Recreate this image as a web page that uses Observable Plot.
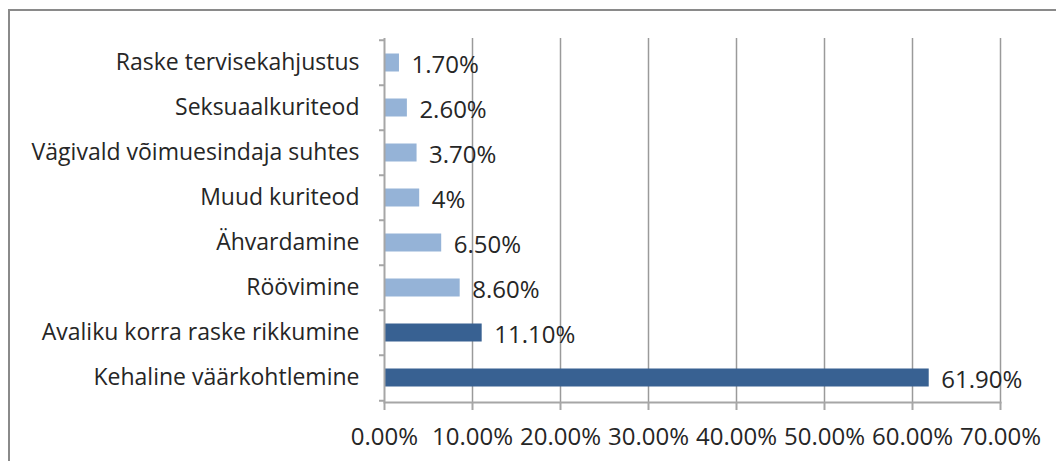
<!DOCTYPE html>
<html>
<head>
<meta charset="utf-8">
<script src="https://cdn.jsdelivr.net/npm/d3@7"></script>
<script src="https://cdn.jsdelivr.net/npm/@observablehq/plot@0.6"></script>
<style>
  html, body { margin: 0; padding: 0; background: #fff; }
  #frame { position: absolute; left: 8px; top: 9px; width: 1100px; height: 500px;
           border-left: 2px solid #8a8a8a; border-top: 2px solid #8a8a8a; }
  #chart { position: absolute; left: 0; top: 0; }
</style>
</head>
<body>
<div id="frame"></div>
<div id="chart"></div>
<script>
const categories = [
  "Raske tervisekahjustus",
  "Seksuaalkuriteod",
  "Vägivald võimuesindaja suhtes",
  "Muud kuriteod",
  "Ähvardamine",
  "Röövimine",
  "Avaliku korra raske rikkumine",
  "Kehaline väärkohtlemine"
];
const values = [0.017, 0.026, 0.037, 0.04, 0.065, 0.086, 0.111, 0.619];
const valueLabels = ["1.70%", "2.60%", "3.70%", "4%", "6.50%", "8.60%", "11.10%", "61.90%"];
const groups = ["light", "light", "light", "light", "light", "light", "dark", "dark"];
const xTicks = [0, 0.1, 0.2, 0.3, 0.4, 0.5, 0.6, 0.7];

const data = categories.map((c, i) => ({cat: c, value: values[i], label: valueLabels[i], group: groups[i]}));

const W = 1056, H = 461, mTop = 38, mBottom = 59;
const step = (H - mTop - mBottom) / categories.length;
const font = "'Open Sans', sans-serif";

const chart = Plot.plot({
  width: W,
  height: H,
  marginLeft: 384,
  marginRight: 56,
  marginTop: mTop,
  marginBottom: mBottom,
  style: {background: "transparent", fontFamily: font, fontSize: "22px", color: "#000"},
  x: {domain: [0, 0.7], ticks: xTicks},
  y: {domain: categories, padding: 0},
  color: {domain: ["light", "dark"], range: ["#95b3d7", "#386192"]},
  marks: [
    Plot.gridX(xTicks.slice(1), {stroke: "#9a9a9a", strokeOpacity: 1, strokeWidth: 1.5}),
    Plot.barX(data, {x: "value", y: "cat", fill: "group", insetTop: 13.5, insetBottom: 13.5}),
    Plot.ruleX([0], {stroke: "#a6a6a6", strokeWidth: 2}),
    Plot.frame({anchor: "bottom", stroke: "#a6a6a6", strokeWidth: 2}),
    Plot.axisX(xTicks, {tickFormat: d3.format(".2%"), tickSize: 8, tickPadding: 17, stroke: "#a6a6a6", strokeWidth: 2, fontSize: 24, fill: "#262626", label: null}),
    Plot.axisY(categories, {tickFormat: null, tickSize: 5, dy: -step / 2, stroke: "#a6a6a6", strokeWidth: 2, label: null}),
    Plot.axisY(categories.slice(-1), {tickFormat: null, tickSize: 5, dy: step / 2, stroke: "#a6a6a6", strokeWidth: 2, label: null}),
    Plot.axisY(categories, {tickSize: 0, tickPadding: 25, fontSize: 23, fill: "#262626", label: null}),
    Plot.text(data, {x: "value", y: "cat", text: "label", dx: 12, dy: 2, textAnchor: "start", fontSize: 24, fill: "#262626"})
  ]
});
document.getElementById("chart").appendChild(chart);
</script>
</body>
</html>
